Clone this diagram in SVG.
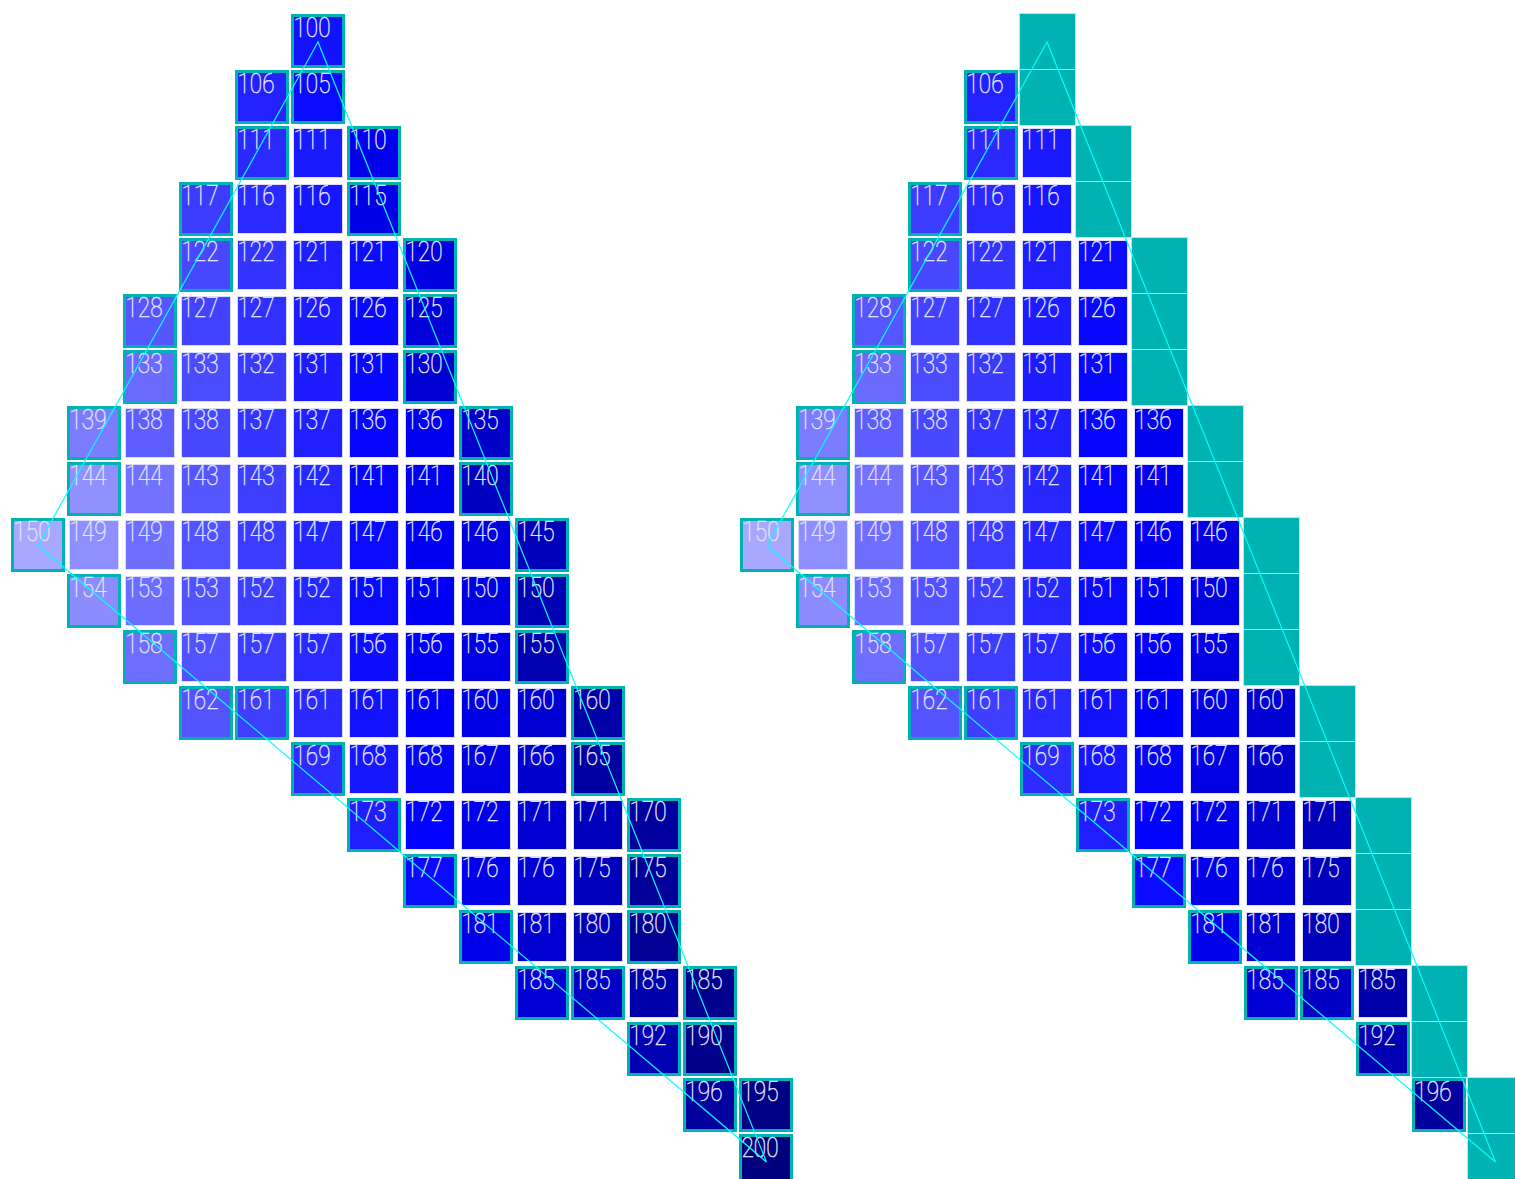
<svg xmlns="http://www.w3.org/2000/svg" xmlns:xlink="http://www.w3.org/1999/xlink" width="1515" height="1179" viewBox="0 0 1515 1179">
<style>
.n{font-family:Roboto,"Liberation Sans",sans-serif;font-weight:100;font-size:27px;fill:#e4e4ff;stroke:#e4e4ff;stroke-width:0.5}
.ln{fill:none;stroke:#00ffff;stroke-width:1.2}
</style>
<defs>
<rect id="b" x="1.5" y="1.5" width="51" height="51" stroke="#00b2b2" stroke-width="3"/>
<rect id="i" x="2.5" y="2.5" width="49" height="49" stroke="#dcdcff" stroke-width="1"/>
<rect id="t" x="-0.5" y="-0.5" width="56" height="56" fill="#00b2b2" stroke="#b0ecec" stroke-width="1"/>
</defs>
<rect width="1515" height="1179" fill="#ffffff"/>
<g id="left">
<g id="L-r0-c5" transform="translate(291,14)"><use href="#b" fill="#1212ff"/><text class="n" x="2.5" y="22.7" textLength="37" lengthAdjust="spacingAndGlyphs">100</text></g>
<g id="L-r1-c4" transform="translate(235,70)"><use href="#b" fill="#2222ff"/><text class="n" x="2.5" y="22.7" textLength="37" lengthAdjust="spacingAndGlyphs">106</text></g>
<g id="L-r1-c5" transform="translate(291,70)"><use href="#b" fill="#0a0aff"/><text class="n" x="2.5" y="22.7" textLength="37" lengthAdjust="spacingAndGlyphs">105</text></g>
<g id="L-r2-c4" transform="translate(235,126)"><use href="#b" fill="#2a2aff"/><text class="n" x="2.5" y="22.7" textLength="37" lengthAdjust="spacingAndGlyphs">111</text></g>
<g id="L-r2-c5" transform="translate(291,126)"><use href="#i" fill="#1a1aff"/><text class="n" x="2.5" y="22.7" textLength="37" lengthAdjust="spacingAndGlyphs">111</text></g>
<g id="L-r2-c6" transform="translate(347,126)"><use href="#b" fill="#0000ec"/><text class="n" x="2.5" y="22.7" textLength="37" lengthAdjust="spacingAndGlyphs">110</text></g>
<g id="L-r3-c3" transform="translate(179,182)"><use href="#b" fill="#3c3cff"/><text class="n" x="2.5" y="22.7" textLength="37" lengthAdjust="spacingAndGlyphs">117</text></g>
<g id="L-r3-c4" transform="translate(235,182)"><use href="#i" fill="#2a2aff"/><text class="n" x="2.5" y="22.7" textLength="37" lengthAdjust="spacingAndGlyphs">116</text></g>
<g id="L-r3-c5" transform="translate(291,182)"><use href="#i" fill="#1616ff"/><text class="n" x="2.5" y="22.7" textLength="37" lengthAdjust="spacingAndGlyphs">116</text></g>
<g id="L-r3-c6" transform="translate(347,182)"><use href="#b" fill="#0000e6"/><text class="n" x="2.5" y="22.7" textLength="37" lengthAdjust="spacingAndGlyphs">115</text></g>
<g id="L-r4-c3" transform="translate(179,238)"><use href="#b" fill="#4848ff"/><text class="n" x="2.5" y="22.7" textLength="37" lengthAdjust="spacingAndGlyphs">122</text></g>
<g id="L-r4-c4" transform="translate(235,238)"><use href="#i" fill="#3434ff"/><text class="n" x="2.5" y="22.7" textLength="37" lengthAdjust="spacingAndGlyphs">122</text></g>
<g id="L-r4-c5" transform="translate(291,238)"><use href="#i" fill="#1e1eff"/><text class="n" x="2.5" y="22.7" textLength="37" lengthAdjust="spacingAndGlyphs">121</text></g>
<g id="L-r4-c6" transform="translate(347,238)"><use href="#i" fill="#0c0cff"/><text class="n" x="2.5" y="22.7" textLength="37" lengthAdjust="spacingAndGlyphs">121</text></g>
<g id="L-r4-c7" transform="translate(403,238)"><use href="#b" fill="#0000e0"/><text class="n" x="2.5" y="22.7" textLength="37" lengthAdjust="spacingAndGlyphs">120</text></g>
<g id="L-r5-c2" transform="translate(123,294)"><use href="#b" fill="#5656ff"/><text class="n" x="2.5" y="22.7" textLength="37" lengthAdjust="spacingAndGlyphs">128</text></g>
<g id="L-r5-c3" transform="translate(179,294)"><use href="#i" fill="#4242ff"/><text class="n" x="2.5" y="22.7" textLength="37" lengthAdjust="spacingAndGlyphs">127</text></g>
<g id="L-r5-c4" transform="translate(235,294)"><use href="#i" fill="#3030ff"/><text class="n" x="2.5" y="22.7" textLength="37" lengthAdjust="spacingAndGlyphs">127</text></g>
<g id="L-r5-c5" transform="translate(291,294)"><use href="#i" fill="#1c1cff"/><text class="n" x="2.5" y="22.7" textLength="37" lengthAdjust="spacingAndGlyphs">126</text></g>
<g id="L-r5-c6" transform="translate(347,294)"><use href="#i" fill="#0808fc"/><text class="n" x="2.5" y="22.7" textLength="37" lengthAdjust="spacingAndGlyphs">126</text></g>
<g id="L-r5-c7" transform="translate(403,294)"><use href="#b" fill="#0000da"/><text class="n" x="2.5" y="22.7" textLength="37" lengthAdjust="spacingAndGlyphs">125</text></g>
<g id="L-r6-c2" transform="translate(123,350)"><use href="#b" fill="#6a6aff"/><text class="n" x="2.5" y="22.7" textLength="37" lengthAdjust="spacingAndGlyphs">133</text></g>
<g id="L-r6-c3" transform="translate(179,350)"><use href="#i" fill="#4c4cff"/><text class="n" x="2.5" y="22.7" textLength="37" lengthAdjust="spacingAndGlyphs">133</text></g>
<g id="L-r6-c4" transform="translate(235,350)"><use href="#i" fill="#3a3aff"/><text class="n" x="2.5" y="22.7" textLength="37" lengthAdjust="spacingAndGlyphs">132</text></g>
<g id="L-r6-c5" transform="translate(291,350)"><use href="#i" fill="#1c1cff"/><text class="n" x="2.5" y="22.7" textLength="37" lengthAdjust="spacingAndGlyphs">131</text></g>
<g id="L-r6-c6" transform="translate(347,350)"><use href="#i" fill="#0808ff"/><text class="n" x="2.5" y="22.7" textLength="37" lengthAdjust="spacingAndGlyphs">131</text></g>
<g id="L-r6-c7" transform="translate(403,350)"><use href="#b" fill="#0000d2"/><text class="n" x="2.5" y="22.7" textLength="37" lengthAdjust="spacingAndGlyphs">130</text></g>
<g id="L-r7-c1" transform="translate(67,406)"><use href="#b" fill="#7c7cff"/><text class="n" x="2.5" y="22.7" textLength="37" lengthAdjust="spacingAndGlyphs">139</text></g>
<g id="L-r7-c2" transform="translate(123,406)"><use href="#i" fill="#5e5eff"/><text class="n" x="2.5" y="22.7" textLength="37" lengthAdjust="spacingAndGlyphs">138</text></g>
<g id="L-r7-c3" transform="translate(179,406)"><use href="#i" fill="#4848ff"/><text class="n" x="2.5" y="22.7" textLength="37" lengthAdjust="spacingAndGlyphs">138</text></g>
<g id="L-r7-c4" transform="translate(235,406)"><use href="#i" fill="#3434ff"/><text class="n" x="2.5" y="22.7" textLength="37" lengthAdjust="spacingAndGlyphs">137</text></g>
<g id="L-r7-c5" transform="translate(291,406)"><use href="#i" fill="#2020ff"/><text class="n" x="2.5" y="22.7" textLength="37" lengthAdjust="spacingAndGlyphs">137</text></g>
<g id="L-r7-c6" transform="translate(347,406)"><use href="#i" fill="#0606ff"/><text class="n" x="2.5" y="22.7" textLength="37" lengthAdjust="spacingAndGlyphs">136</text></g>
<g id="L-r7-c7" transform="translate(403,406)"><use href="#i" fill="#0000ee"/><text class="n" x="2.5" y="22.7" textLength="37" lengthAdjust="spacingAndGlyphs">136</text></g>
<g id="L-r7-c8" transform="translate(459,406)"><use href="#b" fill="#0000c8"/><text class="n" x="2.5" y="22.7" textLength="37" lengthAdjust="spacingAndGlyphs">135</text></g>
<g id="L-r8-c1" transform="translate(67,462)"><use href="#b" fill="#9090ff"/><text class="n" x="2.5" y="22.7" textLength="37" lengthAdjust="spacingAndGlyphs">144</text></g>
<g id="L-r8-c2" transform="translate(123,462)"><use href="#i" fill="#7272ff"/><text class="n" x="2.5" y="22.7" textLength="37" lengthAdjust="spacingAndGlyphs">144</text></g>
<g id="L-r8-c3" transform="translate(179,462)"><use href="#i" fill="#5656ff"/><text class="n" x="2.5" y="22.7" textLength="37" lengthAdjust="spacingAndGlyphs">143</text></g>
<g id="L-r8-c4" transform="translate(235,462)"><use href="#i" fill="#3e3eff"/><text class="n" x="2.5" y="22.7" textLength="37" lengthAdjust="spacingAndGlyphs">143</text></g>
<g id="L-r8-c5" transform="translate(291,462)"><use href="#i" fill="#2626ff"/><text class="n" x="2.5" y="22.7" textLength="37" lengthAdjust="spacingAndGlyphs">142</text></g>
<g id="L-r8-c6" transform="translate(347,462)"><use href="#i" fill="#0404ff"/><text class="n" x="2.5" y="22.7" textLength="37" lengthAdjust="spacingAndGlyphs">141</text></g>
<g id="L-r8-c7" transform="translate(403,462)"><use href="#i" fill="#0000ec"/><text class="n" x="2.5" y="22.7" textLength="37" lengthAdjust="spacingAndGlyphs">141</text></g>
<g id="L-r8-c8" transform="translate(459,462)"><use href="#b" fill="#0000c0"/><text class="n" x="2.5" y="22.7" textLength="37" lengthAdjust="spacingAndGlyphs">140</text></g>
<g id="L-r9-c0" transform="translate(11,518)"><use href="#b" fill="#a8a8ff"/><text class="n" x="2.5" y="22.7" textLength="37" lengthAdjust="spacingAndGlyphs">150</text></g>
<g id="L-r9-c1" transform="translate(67,518)"><use href="#i" fill="#8e8eff"/><text class="n" x="2.5" y="22.7" textLength="37" lengthAdjust="spacingAndGlyphs">149</text></g>
<g id="L-r9-c2" transform="translate(123,518)"><use href="#i" fill="#6e6eff"/><text class="n" x="2.5" y="22.7" textLength="37" lengthAdjust="spacingAndGlyphs">149</text></g>
<g id="L-r9-c3" transform="translate(179,518)"><use href="#i" fill="#5252ff"/><text class="n" x="2.5" y="22.7" textLength="37" lengthAdjust="spacingAndGlyphs">148</text></g>
<g id="L-r9-c4" transform="translate(235,518)"><use href="#i" fill="#3c3cff"/><text class="n" x="2.5" y="22.7" textLength="37" lengthAdjust="spacingAndGlyphs">148</text></g>
<g id="L-r9-c5" transform="translate(291,518)"><use href="#i" fill="#2424ff"/><text class="n" x="2.5" y="22.7" textLength="37" lengthAdjust="spacingAndGlyphs">147</text></g>
<g id="L-r9-c6" transform="translate(347,518)"><use href="#i" fill="#0a0aff"/><text class="n" x="2.5" y="22.7" textLength="37" lengthAdjust="spacingAndGlyphs">147</text></g>
<g id="L-r9-c7" transform="translate(403,518)"><use href="#i" fill="#0000f2"/><text class="n" x="2.5" y="22.7" textLength="37" lengthAdjust="spacingAndGlyphs">146</text></g>
<g id="L-r9-c8" transform="translate(459,518)"><use href="#i" fill="#0000e0"/><text class="n" x="2.5" y="22.7" textLength="37" lengthAdjust="spacingAndGlyphs">146</text></g>
<g id="L-r9-c9" transform="translate(515,518)"><use href="#b" fill="#0000b8"/><text class="n" x="2.5" y="22.7" textLength="37" lengthAdjust="spacingAndGlyphs">145</text></g>
<g id="L-r10-c1" transform="translate(67,574)"><use href="#b" fill="#8c8cff"/><text class="n" x="2.5" y="22.7" textLength="37" lengthAdjust="spacingAndGlyphs">154</text></g>
<g id="L-r10-c2" transform="translate(123,574)"><use href="#i" fill="#6c6cff"/><text class="n" x="2.5" y="22.7" textLength="37" lengthAdjust="spacingAndGlyphs">153</text></g>
<g id="L-r10-c3" transform="translate(179,574)"><use href="#i" fill="#5252ff"/><text class="n" x="2.5" y="22.7" textLength="37" lengthAdjust="spacingAndGlyphs">153</text></g>
<g id="L-r10-c4" transform="translate(235,574)"><use href="#i" fill="#3e3eff"/><text class="n" x="2.5" y="22.7" textLength="37" lengthAdjust="spacingAndGlyphs">152</text></g>
<g id="L-r10-c5" transform="translate(291,574)"><use href="#i" fill="#2626ff"/><text class="n" x="2.5" y="22.7" textLength="37" lengthAdjust="spacingAndGlyphs">152</text></g>
<g id="L-r10-c6" transform="translate(347,574)"><use href="#i" fill="#0a0aff"/><text class="n" x="2.5" y="22.7" textLength="37" lengthAdjust="spacingAndGlyphs">151</text></g>
<g id="L-r10-c7" transform="translate(403,574)"><use href="#i" fill="#0000f4"/><text class="n" x="2.5" y="22.7" textLength="37" lengthAdjust="spacingAndGlyphs">151</text></g>
<g id="L-r10-c8" transform="translate(459,574)"><use href="#i" fill="#0000e2"/><text class="n" x="2.5" y="22.7" textLength="37" lengthAdjust="spacingAndGlyphs">150</text></g>
<g id="L-r10-c9" transform="translate(515,574)"><use href="#b" fill="#0000b4"/><text class="n" x="2.5" y="22.7" textLength="37" lengthAdjust="spacingAndGlyphs">150</text></g>
<g id="L-r11-c2" transform="translate(123,630)"><use href="#b" fill="#6e6eff"/><text class="n" x="2.5" y="22.7" textLength="37" lengthAdjust="spacingAndGlyphs">158</text></g>
<g id="L-r11-c3" transform="translate(179,630)"><use href="#i" fill="#5252ff"/><text class="n" x="2.5" y="22.7" textLength="37" lengthAdjust="spacingAndGlyphs">157</text></g>
<g id="L-r11-c4" transform="translate(235,630)"><use href="#i" fill="#3c3cff"/><text class="n" x="2.5" y="22.7" textLength="37" lengthAdjust="spacingAndGlyphs">157</text></g>
<g id="L-r11-c5" transform="translate(291,630)"><use href="#i" fill="#2a2aff"/><text class="n" x="2.5" y="22.7" textLength="37" lengthAdjust="spacingAndGlyphs">157</text></g>
<g id="L-r11-c6" transform="translate(347,630)"><use href="#i" fill="#0e0eff"/><text class="n" x="2.5" y="22.7" textLength="37" lengthAdjust="spacingAndGlyphs">156</text></g>
<g id="L-r11-c7" transform="translate(403,630)"><use href="#i" fill="#0000f6"/><text class="n" x="2.5" y="22.7" textLength="37" lengthAdjust="spacingAndGlyphs">156</text></g>
<g id="L-r11-c8" transform="translate(459,630)"><use href="#i" fill="#0000e2"/><text class="n" x="2.5" y="22.7" textLength="37" lengthAdjust="spacingAndGlyphs">155</text></g>
<g id="L-r11-c9" transform="translate(515,630)"><use href="#b" fill="#0000ae"/><text class="n" x="2.5" y="22.7" textLength="37" lengthAdjust="spacingAndGlyphs">155</text></g>
<g id="L-r12-c3" transform="translate(179,686)"><use href="#b" fill="#5454ff"/><text class="n" x="2.5" y="22.7" textLength="37" lengthAdjust="spacingAndGlyphs">162</text></g>
<g id="L-r12-c4" transform="translate(235,686)"><use href="#b" fill="#3e3eff"/><text class="n" x="2.5" y="22.7" textLength="37" lengthAdjust="spacingAndGlyphs">161</text></g>
<g id="L-r12-c5" transform="translate(291,686)"><use href="#i" fill="#2a2aff"/><text class="n" x="2.5" y="22.7" textLength="37" lengthAdjust="spacingAndGlyphs">161</text></g>
<g id="L-r12-c6" transform="translate(347,686)"><use href="#i" fill="#1212ff"/><text class="n" x="2.5" y="22.7" textLength="37" lengthAdjust="spacingAndGlyphs">161</text></g>
<g id="L-r12-c7" transform="translate(403,686)"><use href="#i" fill="#0000fa"/><text class="n" x="2.5" y="22.7" textLength="37" lengthAdjust="spacingAndGlyphs">161</text></g>
<g id="L-r12-c8" transform="translate(459,686)"><use href="#i" fill="#0000e6"/><text class="n" x="2.5" y="22.7" textLength="37" lengthAdjust="spacingAndGlyphs">160</text></g>
<g id="L-r12-c9" transform="translate(515,686)"><use href="#i" fill="#0000d2"/><text class="n" x="2.5" y="22.7" textLength="37" lengthAdjust="spacingAndGlyphs">160</text></g>
<g id="L-r12-c10" transform="translate(571,686)"><use href="#b" fill="#0000a8"/><text class="n" x="2.5" y="22.7" textLength="37" lengthAdjust="spacingAndGlyphs">160</text></g>
<g id="L-r13-c5" transform="translate(291,742)"><use href="#b" fill="#2c2cff"/><text class="n" x="2.5" y="22.7" textLength="37" lengthAdjust="spacingAndGlyphs">169</text></g>
<g id="L-r13-c6" transform="translate(347,742)"><use href="#i" fill="#1616ff"/><text class="n" x="2.5" y="22.7" textLength="37" lengthAdjust="spacingAndGlyphs">168</text></g>
<g id="L-r13-c7" transform="translate(403,742)"><use href="#i" fill="#0404f6"/><text class="n" x="2.5" y="22.7" textLength="37" lengthAdjust="spacingAndGlyphs">168</text></g>
<g id="L-r13-c8" transform="translate(459,742)"><use href="#i" fill="#0000e2"/><text class="n" x="2.5" y="22.7" textLength="37" lengthAdjust="spacingAndGlyphs">167</text></g>
<g id="L-r13-c9" transform="translate(515,742)"><use href="#i" fill="#0000ce"/><text class="n" x="2.5" y="22.7" textLength="37" lengthAdjust="spacingAndGlyphs">166</text></g>
<g id="L-r13-c10" transform="translate(571,742)"><use href="#b" fill="#0000a2"/><text class="n" x="2.5" y="22.7" textLength="37" lengthAdjust="spacingAndGlyphs">165</text></g>
<g id="L-r14-c6" transform="translate(347,798)"><use href="#b" fill="#1e1eff"/><text class="n" x="2.5" y="22.7" textLength="37" lengthAdjust="spacingAndGlyphs">173</text></g>
<g id="L-r14-c7" transform="translate(403,798)"><use href="#i" fill="#0202ff"/><text class="n" x="2.5" y="22.7" textLength="37" lengthAdjust="spacingAndGlyphs">172</text></g>
<g id="L-r14-c8" transform="translate(459,798)"><use href="#i" fill="#0000ea"/><text class="n" x="2.5" y="22.7" textLength="37" lengthAdjust="spacingAndGlyphs">172</text></g>
<g id="L-r14-c9" transform="translate(515,798)"><use href="#i" fill="#0000d0"/><text class="n" x="2.5" y="22.7" textLength="37" lengthAdjust="spacingAndGlyphs">171</text></g>
<g id="L-r14-c10" transform="translate(571,798)"><use href="#i" fill="#0000bc"/><text class="n" x="2.5" y="22.7" textLength="37" lengthAdjust="spacingAndGlyphs">171</text></g>
<g id="L-r14-c11" transform="translate(627,798)"><use href="#b" fill="#00009e"/><text class="n" x="2.5" y="22.7" textLength="37" lengthAdjust="spacingAndGlyphs">170</text></g>
<g id="L-r15-c7" transform="translate(403,854)"><use href="#b" fill="#0a0aff"/><text class="n" x="2.5" y="22.7" textLength="37" lengthAdjust="spacingAndGlyphs">177</text></g>
<g id="L-r15-c8" transform="translate(459,854)"><use href="#i" fill="#0000ea"/><text class="n" x="2.5" y="22.7" textLength="37" lengthAdjust="spacingAndGlyphs">176</text></g>
<g id="L-r15-c9" transform="translate(515,854)"><use href="#i" fill="#0000d4"/><text class="n" x="2.5" y="22.7" textLength="37" lengthAdjust="spacingAndGlyphs">176</text></g>
<g id="L-r15-c10" transform="translate(571,854)"><use href="#i" fill="#0000bc"/><text class="n" x="2.5" y="22.7" textLength="37" lengthAdjust="spacingAndGlyphs">175</text></g>
<g id="L-r15-c11" transform="translate(627,854)"><use href="#b" fill="#000098"/><text class="n" x="2.5" y="22.7" textLength="37" lengthAdjust="spacingAndGlyphs">175</text></g>
<g id="L-r16-c8" transform="translate(459,910)"><use href="#b" fill="#0000ea"/><text class="n" x="2.5" y="22.7" textLength="37" lengthAdjust="spacingAndGlyphs">181</text></g>
<g id="L-r16-c9" transform="translate(515,910)"><use href="#i" fill="#0000d0"/><text class="n" x="2.5" y="22.7" textLength="37" lengthAdjust="spacingAndGlyphs">181</text></g>
<g id="L-r16-c10" transform="translate(571,910)"><use href="#i" fill="#0000b8"/><text class="n" x="2.5" y="22.7" textLength="37" lengthAdjust="spacingAndGlyphs">180</text></g>
<g id="L-r16-c11" transform="translate(627,910)"><use href="#b" fill="#000092"/><text class="n" x="2.5" y="22.7" textLength="37" lengthAdjust="spacingAndGlyphs">180</text></g>
<g id="L-r17-c9" transform="translate(515,966)"><use href="#b" fill="#0000d6"/><text class="n" x="2.5" y="22.7" textLength="37" lengthAdjust="spacingAndGlyphs">185</text></g>
<g id="L-r17-c10" transform="translate(571,966)"><use href="#b" fill="#0000c4"/><text class="n" x="2.5" y="22.7" textLength="37" lengthAdjust="spacingAndGlyphs">185</text></g>
<g id="L-r17-c11" transform="translate(627,966)"><use href="#i" fill="#0000aa"/><text class="n" x="2.5" y="22.7" textLength="37" lengthAdjust="spacingAndGlyphs">185</text></g>
<g id="L-r17-c12" transform="translate(683,966)"><use href="#b" fill="#00008e"/><text class="n" x="2.5" y="22.7" textLength="37" lengthAdjust="spacingAndGlyphs">185</text></g>
<g id="L-r18-c11" transform="translate(627,1022)"><use href="#b" fill="#0000b2"/><text class="n" x="2.5" y="22.7" textLength="37" lengthAdjust="spacingAndGlyphs">192</text></g>
<g id="L-r18-c12" transform="translate(683,1022)"><use href="#b" fill="#00008a"/><text class="n" x="2.5" y="22.7" textLength="37" lengthAdjust="spacingAndGlyphs">190</text></g>
<g id="L-r19-c12" transform="translate(683,1078)"><use href="#b" fill="#00009e"/><text class="n" x="2.5" y="22.7" textLength="37" lengthAdjust="spacingAndGlyphs">196</text></g>
<g id="L-r19-c13" transform="translate(739,1078)"><use href="#b" fill="#000084"/><text class="n" x="2.5" y="22.7" textLength="37" lengthAdjust="spacingAndGlyphs">195</text></g>
<g id="L-r20-c13" transform="translate(739,1134)"><use href="#b" fill="#00007e"/><text class="n" x="2.5" y="22.7" textLength="37" lengthAdjust="spacingAndGlyphs">200</text></g>
</g>
<g id="right">
<g id="R-r0-c5"><use href="#t" x="1020" y="14"/></g>
<g id="R-r1-c4" transform="translate(964,70)"><use href="#b" fill="#2222ff"/><text class="n" x="2.5" y="22.7" textLength="37" lengthAdjust="spacingAndGlyphs">106</text></g>
<g id="R-r1-c5"><use href="#t" x="1020" y="70"/></g>
<g id="R-r2-c4" transform="translate(964,126)"><use href="#b" fill="#2a2aff"/><text class="n" x="2.5" y="22.7" textLength="37" lengthAdjust="spacingAndGlyphs">111</text></g>
<g id="R-r2-c5" transform="translate(1020,126)"><use href="#i" fill="#1a1aff"/><text class="n" x="2.5" y="22.7" textLength="37" lengthAdjust="spacingAndGlyphs">111</text></g>
<g id="R-r2-c6"><use href="#t" x="1076" y="126"/></g>
<g id="R-r3-c3" transform="translate(908,182)"><use href="#b" fill="#3c3cff"/><text class="n" x="2.5" y="22.7" textLength="37" lengthAdjust="spacingAndGlyphs">117</text></g>
<g id="R-r3-c4" transform="translate(964,182)"><use href="#i" fill="#2a2aff"/><text class="n" x="2.5" y="22.7" textLength="37" lengthAdjust="spacingAndGlyphs">116</text></g>
<g id="R-r3-c5" transform="translate(1020,182)"><use href="#i" fill="#1616ff"/><text class="n" x="2.5" y="22.7" textLength="37" lengthAdjust="spacingAndGlyphs">116</text></g>
<g id="R-r3-c6"><use href="#t" x="1076" y="182"/></g>
<g id="R-r4-c3" transform="translate(908,238)"><use href="#b" fill="#4848ff"/><text class="n" x="2.5" y="22.7" textLength="37" lengthAdjust="spacingAndGlyphs">122</text></g>
<g id="R-r4-c4" transform="translate(964,238)"><use href="#i" fill="#3434ff"/><text class="n" x="2.5" y="22.7" textLength="37" lengthAdjust="spacingAndGlyphs">122</text></g>
<g id="R-r4-c5" transform="translate(1020,238)"><use href="#i" fill="#1e1eff"/><text class="n" x="2.5" y="22.7" textLength="37" lengthAdjust="spacingAndGlyphs">121</text></g>
<g id="R-r4-c6" transform="translate(1076,238)"><use href="#i" fill="#0c0cff"/><text class="n" x="2.5" y="22.7" textLength="37" lengthAdjust="spacingAndGlyphs">121</text></g>
<g id="R-r4-c7"><use href="#t" x="1132" y="238"/></g>
<g id="R-r5-c2" transform="translate(852,294)"><use href="#b" fill="#5656ff"/><text class="n" x="2.5" y="22.7" textLength="37" lengthAdjust="spacingAndGlyphs">128</text></g>
<g id="R-r5-c3" transform="translate(908,294)"><use href="#i" fill="#4242ff"/><text class="n" x="2.5" y="22.7" textLength="37" lengthAdjust="spacingAndGlyphs">127</text></g>
<g id="R-r5-c4" transform="translate(964,294)"><use href="#i" fill="#3030ff"/><text class="n" x="2.5" y="22.7" textLength="37" lengthAdjust="spacingAndGlyphs">127</text></g>
<g id="R-r5-c5" transform="translate(1020,294)"><use href="#i" fill="#1c1cff"/><text class="n" x="2.5" y="22.7" textLength="37" lengthAdjust="spacingAndGlyphs">126</text></g>
<g id="R-r5-c6" transform="translate(1076,294)"><use href="#i" fill="#0808fc"/><text class="n" x="2.5" y="22.7" textLength="37" lengthAdjust="spacingAndGlyphs">126</text></g>
<g id="R-r5-c7"><use href="#t" x="1132" y="294"/></g>
<g id="R-r6-c2" transform="translate(852,350)"><use href="#b" fill="#6a6aff"/><text class="n" x="2.5" y="22.7" textLength="37" lengthAdjust="spacingAndGlyphs">133</text></g>
<g id="R-r6-c3" transform="translate(908,350)"><use href="#i" fill="#4c4cff"/><text class="n" x="2.5" y="22.7" textLength="37" lengthAdjust="spacingAndGlyphs">133</text></g>
<g id="R-r6-c4" transform="translate(964,350)"><use href="#i" fill="#3a3aff"/><text class="n" x="2.5" y="22.7" textLength="37" lengthAdjust="spacingAndGlyphs">132</text></g>
<g id="R-r6-c5" transform="translate(1020,350)"><use href="#i" fill="#1c1cff"/><text class="n" x="2.5" y="22.7" textLength="37" lengthAdjust="spacingAndGlyphs">131</text></g>
<g id="R-r6-c6" transform="translate(1076,350)"><use href="#i" fill="#0808ff"/><text class="n" x="2.5" y="22.7" textLength="37" lengthAdjust="spacingAndGlyphs">131</text></g>
<g id="R-r6-c7"><use href="#t" x="1132" y="350"/></g>
<g id="R-r7-c1" transform="translate(796,406)"><use href="#b" fill="#7c7cff"/><text class="n" x="2.5" y="22.7" textLength="37" lengthAdjust="spacingAndGlyphs">139</text></g>
<g id="R-r7-c2" transform="translate(852,406)"><use href="#i" fill="#5e5eff"/><text class="n" x="2.5" y="22.7" textLength="37" lengthAdjust="spacingAndGlyphs">138</text></g>
<g id="R-r7-c3" transform="translate(908,406)"><use href="#i" fill="#4848ff"/><text class="n" x="2.5" y="22.7" textLength="37" lengthAdjust="spacingAndGlyphs">138</text></g>
<g id="R-r7-c4" transform="translate(964,406)"><use href="#i" fill="#3434ff"/><text class="n" x="2.5" y="22.7" textLength="37" lengthAdjust="spacingAndGlyphs">137</text></g>
<g id="R-r7-c5" transform="translate(1020,406)"><use href="#i" fill="#2020ff"/><text class="n" x="2.5" y="22.7" textLength="37" lengthAdjust="spacingAndGlyphs">137</text></g>
<g id="R-r7-c6" transform="translate(1076,406)"><use href="#i" fill="#0606ff"/><text class="n" x="2.5" y="22.7" textLength="37" lengthAdjust="spacingAndGlyphs">136</text></g>
<g id="R-r7-c7" transform="translate(1132,406)"><use href="#i" fill="#0000ee"/><text class="n" x="2.5" y="22.7" textLength="37" lengthAdjust="spacingAndGlyphs">136</text></g>
<g id="R-r7-c8"><use href="#t" x="1188" y="406"/></g>
<g id="R-r8-c1" transform="translate(796,462)"><use href="#b" fill="#9090ff"/><text class="n" x="2.5" y="22.7" textLength="37" lengthAdjust="spacingAndGlyphs">144</text></g>
<g id="R-r8-c2" transform="translate(852,462)"><use href="#i" fill="#7272ff"/><text class="n" x="2.5" y="22.7" textLength="37" lengthAdjust="spacingAndGlyphs">144</text></g>
<g id="R-r8-c3" transform="translate(908,462)"><use href="#i" fill="#5656ff"/><text class="n" x="2.5" y="22.7" textLength="37" lengthAdjust="spacingAndGlyphs">143</text></g>
<g id="R-r8-c4" transform="translate(964,462)"><use href="#i" fill="#3e3eff"/><text class="n" x="2.5" y="22.7" textLength="37" lengthAdjust="spacingAndGlyphs">143</text></g>
<g id="R-r8-c5" transform="translate(1020,462)"><use href="#i" fill="#2626ff"/><text class="n" x="2.5" y="22.7" textLength="37" lengthAdjust="spacingAndGlyphs">142</text></g>
<g id="R-r8-c6" transform="translate(1076,462)"><use href="#i" fill="#0404ff"/><text class="n" x="2.5" y="22.7" textLength="37" lengthAdjust="spacingAndGlyphs">141</text></g>
<g id="R-r8-c7" transform="translate(1132,462)"><use href="#i" fill="#0000ec"/><text class="n" x="2.5" y="22.7" textLength="37" lengthAdjust="spacingAndGlyphs">141</text></g>
<g id="R-r8-c8"><use href="#t" x="1188" y="462"/></g>
<g id="R-r9-c0" transform="translate(740,518)"><use href="#b" fill="#a8a8ff"/><text class="n" x="2.5" y="22.7" textLength="37" lengthAdjust="spacingAndGlyphs">150</text></g>
<g id="R-r9-c1" transform="translate(796,518)"><use href="#i" fill="#8e8eff"/><text class="n" x="2.5" y="22.7" textLength="37" lengthAdjust="spacingAndGlyphs">149</text></g>
<g id="R-r9-c2" transform="translate(852,518)"><use href="#i" fill="#6e6eff"/><text class="n" x="2.5" y="22.7" textLength="37" lengthAdjust="spacingAndGlyphs">149</text></g>
<g id="R-r9-c3" transform="translate(908,518)"><use href="#i" fill="#5252ff"/><text class="n" x="2.5" y="22.7" textLength="37" lengthAdjust="spacingAndGlyphs">148</text></g>
<g id="R-r9-c4" transform="translate(964,518)"><use href="#i" fill="#3c3cff"/><text class="n" x="2.5" y="22.7" textLength="37" lengthAdjust="spacingAndGlyphs">148</text></g>
<g id="R-r9-c5" transform="translate(1020,518)"><use href="#i" fill="#2424ff"/><text class="n" x="2.5" y="22.7" textLength="37" lengthAdjust="spacingAndGlyphs">147</text></g>
<g id="R-r9-c6" transform="translate(1076,518)"><use href="#i" fill="#0a0aff"/><text class="n" x="2.5" y="22.7" textLength="37" lengthAdjust="spacingAndGlyphs">147</text></g>
<g id="R-r9-c7" transform="translate(1132,518)"><use href="#i" fill="#0000f2"/><text class="n" x="2.5" y="22.7" textLength="37" lengthAdjust="spacingAndGlyphs">146</text></g>
<g id="R-r9-c8" transform="translate(1188,518)"><use href="#i" fill="#0000e0"/><text class="n" x="2.5" y="22.7" textLength="37" lengthAdjust="spacingAndGlyphs">146</text></g>
<g id="R-r9-c9"><use href="#t" x="1244" y="518"/></g>
<g id="R-r10-c1" transform="translate(796,574)"><use href="#b" fill="#8c8cff"/><text class="n" x="2.5" y="22.7" textLength="37" lengthAdjust="spacingAndGlyphs">154</text></g>
<g id="R-r10-c2" transform="translate(852,574)"><use href="#i" fill="#6c6cff"/><text class="n" x="2.5" y="22.7" textLength="37" lengthAdjust="spacingAndGlyphs">153</text></g>
<g id="R-r10-c3" transform="translate(908,574)"><use href="#i" fill="#5252ff"/><text class="n" x="2.5" y="22.7" textLength="37" lengthAdjust="spacingAndGlyphs">153</text></g>
<g id="R-r10-c4" transform="translate(964,574)"><use href="#i" fill="#3e3eff"/><text class="n" x="2.5" y="22.7" textLength="37" lengthAdjust="spacingAndGlyphs">152</text></g>
<g id="R-r10-c5" transform="translate(1020,574)"><use href="#i" fill="#2626ff"/><text class="n" x="2.5" y="22.7" textLength="37" lengthAdjust="spacingAndGlyphs">152</text></g>
<g id="R-r10-c6" transform="translate(1076,574)"><use href="#i" fill="#0a0aff"/><text class="n" x="2.5" y="22.7" textLength="37" lengthAdjust="spacingAndGlyphs">151</text></g>
<g id="R-r10-c7" transform="translate(1132,574)"><use href="#i" fill="#0000f4"/><text class="n" x="2.5" y="22.7" textLength="37" lengthAdjust="spacingAndGlyphs">151</text></g>
<g id="R-r10-c8" transform="translate(1188,574)"><use href="#i" fill="#0000e2"/><text class="n" x="2.5" y="22.7" textLength="37" lengthAdjust="spacingAndGlyphs">150</text></g>
<g id="R-r10-c9"><use href="#t" x="1244" y="574"/></g>
<g id="R-r11-c2" transform="translate(852,630)"><use href="#b" fill="#6e6eff"/><text class="n" x="2.5" y="22.7" textLength="37" lengthAdjust="spacingAndGlyphs">158</text></g>
<g id="R-r11-c3" transform="translate(908,630)"><use href="#i" fill="#5252ff"/><text class="n" x="2.5" y="22.7" textLength="37" lengthAdjust="spacingAndGlyphs">157</text></g>
<g id="R-r11-c4" transform="translate(964,630)"><use href="#i" fill="#3c3cff"/><text class="n" x="2.5" y="22.7" textLength="37" lengthAdjust="spacingAndGlyphs">157</text></g>
<g id="R-r11-c5" transform="translate(1020,630)"><use href="#i" fill="#2a2aff"/><text class="n" x="2.5" y="22.7" textLength="37" lengthAdjust="spacingAndGlyphs">157</text></g>
<g id="R-r11-c6" transform="translate(1076,630)"><use href="#i" fill="#0e0eff"/><text class="n" x="2.5" y="22.7" textLength="37" lengthAdjust="spacingAndGlyphs">156</text></g>
<g id="R-r11-c7" transform="translate(1132,630)"><use href="#i" fill="#0000f6"/><text class="n" x="2.5" y="22.7" textLength="37" lengthAdjust="spacingAndGlyphs">156</text></g>
<g id="R-r11-c8" transform="translate(1188,630)"><use href="#i" fill="#0000e2"/><text class="n" x="2.5" y="22.7" textLength="37" lengthAdjust="spacingAndGlyphs">155</text></g>
<g id="R-r11-c9"><use href="#t" x="1244" y="630"/></g>
<g id="R-r12-c3" transform="translate(908,686)"><use href="#b" fill="#5454ff"/><text class="n" x="2.5" y="22.7" textLength="37" lengthAdjust="spacingAndGlyphs">162</text></g>
<g id="R-r12-c4" transform="translate(964,686)"><use href="#b" fill="#3e3eff"/><text class="n" x="2.5" y="22.7" textLength="37" lengthAdjust="spacingAndGlyphs">161</text></g>
<g id="R-r12-c5" transform="translate(1020,686)"><use href="#i" fill="#2a2aff"/><text class="n" x="2.5" y="22.7" textLength="37" lengthAdjust="spacingAndGlyphs">161</text></g>
<g id="R-r12-c6" transform="translate(1076,686)"><use href="#i" fill="#1212ff"/><text class="n" x="2.5" y="22.7" textLength="37" lengthAdjust="spacingAndGlyphs">161</text></g>
<g id="R-r12-c7" transform="translate(1132,686)"><use href="#i" fill="#0000fa"/><text class="n" x="2.5" y="22.7" textLength="37" lengthAdjust="spacingAndGlyphs">161</text></g>
<g id="R-r12-c8" transform="translate(1188,686)"><use href="#i" fill="#0000e6"/><text class="n" x="2.5" y="22.7" textLength="37" lengthAdjust="spacingAndGlyphs">160</text></g>
<g id="R-r12-c9" transform="translate(1244,686)"><use href="#i" fill="#0000d2"/><text class="n" x="2.5" y="22.7" textLength="37" lengthAdjust="spacingAndGlyphs">160</text></g>
<g id="R-r12-c10"><use href="#t" x="1300" y="686"/></g>
<g id="R-r13-c5" transform="translate(1020,742)"><use href="#b" fill="#2c2cff"/><text class="n" x="2.5" y="22.7" textLength="37" lengthAdjust="spacingAndGlyphs">169</text></g>
<g id="R-r13-c6" transform="translate(1076,742)"><use href="#i" fill="#1616ff"/><text class="n" x="2.5" y="22.7" textLength="37" lengthAdjust="spacingAndGlyphs">168</text></g>
<g id="R-r13-c7" transform="translate(1132,742)"><use href="#i" fill="#0404f6"/><text class="n" x="2.5" y="22.7" textLength="37" lengthAdjust="spacingAndGlyphs">168</text></g>
<g id="R-r13-c8" transform="translate(1188,742)"><use href="#i" fill="#0000e2"/><text class="n" x="2.5" y="22.7" textLength="37" lengthAdjust="spacingAndGlyphs">167</text></g>
<g id="R-r13-c9" transform="translate(1244,742)"><use href="#i" fill="#0000ce"/><text class="n" x="2.5" y="22.7" textLength="37" lengthAdjust="spacingAndGlyphs">166</text></g>
<g id="R-r13-c10"><use href="#t" x="1300" y="742"/></g>
<g id="R-r14-c6" transform="translate(1076,798)"><use href="#b" fill="#1e1eff"/><text class="n" x="2.5" y="22.7" textLength="37" lengthAdjust="spacingAndGlyphs">173</text></g>
<g id="R-r14-c7" transform="translate(1132,798)"><use href="#i" fill="#0202ff"/><text class="n" x="2.5" y="22.7" textLength="37" lengthAdjust="spacingAndGlyphs">172</text></g>
<g id="R-r14-c8" transform="translate(1188,798)"><use href="#i" fill="#0000ea"/><text class="n" x="2.5" y="22.7" textLength="37" lengthAdjust="spacingAndGlyphs">172</text></g>
<g id="R-r14-c9" transform="translate(1244,798)"><use href="#i" fill="#0000d0"/><text class="n" x="2.5" y="22.7" textLength="37" lengthAdjust="spacingAndGlyphs">171</text></g>
<g id="R-r14-c10" transform="translate(1300,798)"><use href="#i" fill="#0000bc"/><text class="n" x="2.5" y="22.7" textLength="37" lengthAdjust="spacingAndGlyphs">171</text></g>
<g id="R-r14-c11"><use href="#t" x="1356" y="798"/></g>
<g id="R-r15-c7" transform="translate(1132,854)"><use href="#b" fill="#0a0aff"/><text class="n" x="2.5" y="22.7" textLength="37" lengthAdjust="spacingAndGlyphs">177</text></g>
<g id="R-r15-c8" transform="translate(1188,854)"><use href="#i" fill="#0000ea"/><text class="n" x="2.5" y="22.7" textLength="37" lengthAdjust="spacingAndGlyphs">176</text></g>
<g id="R-r15-c9" transform="translate(1244,854)"><use href="#i" fill="#0000d4"/><text class="n" x="2.5" y="22.7" textLength="37" lengthAdjust="spacingAndGlyphs">176</text></g>
<g id="R-r15-c10" transform="translate(1300,854)"><use href="#i" fill="#0000bc"/><text class="n" x="2.5" y="22.7" textLength="37" lengthAdjust="spacingAndGlyphs">175</text></g>
<g id="R-r15-c11"><use href="#t" x="1356" y="854"/></g>
<g id="R-r16-c8" transform="translate(1188,910)"><use href="#b" fill="#0000ea"/><text class="n" x="2.5" y="22.7" textLength="37" lengthAdjust="spacingAndGlyphs">181</text></g>
<g id="R-r16-c9" transform="translate(1244,910)"><use href="#i" fill="#0000d0"/><text class="n" x="2.5" y="22.7" textLength="37" lengthAdjust="spacingAndGlyphs">181</text></g>
<g id="R-r16-c10" transform="translate(1300,910)"><use href="#i" fill="#0000b8"/><text class="n" x="2.5" y="22.7" textLength="37" lengthAdjust="spacingAndGlyphs">180</text></g>
<g id="R-r16-c11"><use href="#t" x="1356" y="910"/></g>
<g id="R-r17-c9" transform="translate(1244,966)"><use href="#b" fill="#0000d6"/><text class="n" x="2.5" y="22.7" textLength="37" lengthAdjust="spacingAndGlyphs">185</text></g>
<g id="R-r17-c10" transform="translate(1300,966)"><use href="#b" fill="#0000c4"/><text class="n" x="2.5" y="22.7" textLength="37" lengthAdjust="spacingAndGlyphs">185</text></g>
<g id="R-r17-c11" transform="translate(1356,966)"><use href="#i" fill="#0000aa"/><text class="n" x="2.5" y="22.7" textLength="37" lengthAdjust="spacingAndGlyphs">185</text></g>
<g id="R-r17-c12"><use href="#t" x="1412" y="966"/></g>
<g id="R-r18-c11" transform="translate(1356,1022)"><use href="#b" fill="#0000b2"/><text class="n" x="2.5" y="22.7" textLength="37" lengthAdjust="spacingAndGlyphs">192</text></g>
<g id="R-r18-c12"><use href="#t" x="1412" y="1022"/></g>
<g id="R-r19-c12" transform="translate(1412,1078)"><use href="#b" fill="#00009e"/><text class="n" x="2.5" y="22.7" textLength="37" lengthAdjust="spacingAndGlyphs">196</text></g>
<g id="R-r19-c13"><use href="#t" x="1468" y="1078"/></g>
<g id="R-r20-c13"><use href="#t" x="1468" y="1134"/></g>
</g>
<g id="connectors">
<polygon class="ln" points="318,42 38,545.5 766.5,1162"/>
<polygon class="ln" points="1047,42 767,545.5 1495.5,1162"/>
</g>
</svg>
